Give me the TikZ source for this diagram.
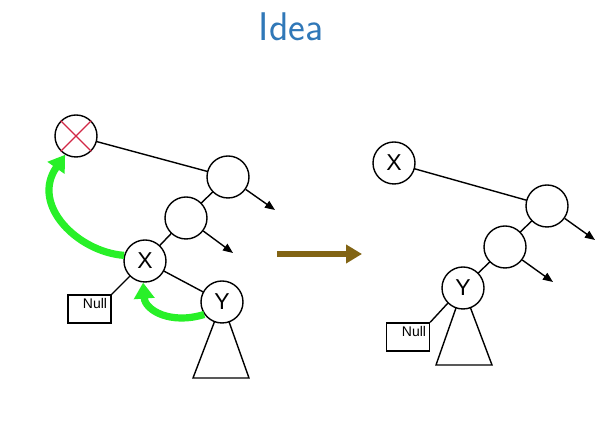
\documentclass[tikz,border=0pt]{standalone}
\usepackage{fontspec}
\newfontfamily\arialfont{Liberation Sans}
\usetikzlibrary{arrows.meta}
\definecolor{titleblue}{RGB}{48,120,184}
\definecolor{brightgreen}{RGB}{40,240,40}
\definecolor{crossred}{RGB}{210,40,70}
\definecolor{arrowbrown}{RGB}{130,100,20}
\tikzset{
  tnode/.style={circle, draw, fill=white, line width=0.7pt, minimum size=21pt, inner sep=0pt, font=\arialfont\fontsize{11.5}{12}\selectfont},
  nullbox/.style={rectangle, draw, fill=white, line width=0.7pt, minimum width=21.5pt, minimum height=14pt, inner sep=0pt},
  nulltext/.style={font=\arialfont\fontsize{7}{8}\selectfont, inner sep=0pt},
  edge/.style={line width=0.7pt},
  ptr/.style={line width=0.7pt, -{Triangle[length=5pt, width=4pt]}},
  greenarrow/.style={line width=3.6pt, brightgreen, -{Triangle[length=8pt, width=10pt]}},
  tri/.style={draw, fill=white, line width=0.7pt}
}
\begin{document}
\begin{tikzpicture}[x=0.5pt, y=-0.5pt]
\useasboundingbox (0,0) rectangle (600,431);
% title
\node[anchor=base, text=titleblue, font=\sffamily\fontsize{20}{24}\selectfont, inner sep=0pt] (title) at (291,41) {Idea};

% ---------- left tree ----------
\coordinate (lY) at (222,302);
\coordinate (lta) at (275,210);
\coordinate (ltb) at (233,253);
\draw[tri] (lY) -- (193,378) -- (249,378) -- cycle;
\draw[edge] (76,136) -- (228,177);
\draw[edge] (228,177) -- (186,218) -- (145,261) -- (222,302);
\node[tnode] (lC) at (76,136) {};
\node[tnode] (lA) at (228,177) {};
\node[tnode] (lB) at (186,218) {};
\node[tnode] (lX) at (145,261) {X};
\node[tnode] (lYn) at (lY) {Y};
\draw[crossred, line width=0.7pt] (lC.45) -- (lC.225) (lC.135) -- (lC.315);
\node[nullbox] (lN) at (89.5,309) {};
\node[nulltext] (lNt) at (95,304) {Null};
\draw[edge] (lX.225) -- (lN.north east);
\draw[ptr] (lA.-35) -- (lta);
\draw[ptr] (lB.-37) -- (ltb);
% green arrows
\draw[greenarrow] (lX.165) .. controls (78,252) and (30,205) .. (lC.240);
\draw[greenarrow] (lYn.215) .. controls (170,325) and (145,310) .. (lX.265);

% ---------- transform arrow ----------
\coordinate (bs) at (277,254);
\coordinate (be) at (362,254);
\draw[arrowbrown, line width=3pt, -{Triangle[length=8pt, width=9pt]}] (bs) -- (be);

% ---------- right tree ----------
\coordinate (rY) at (463,288);
\coordinate (rta) at (595,240);
\coordinate (rtb) at (553,282);
\draw[tri] (rY) -- (436,365) -- (492,365) -- cycle;
\draw[edge] (394,163) -- (547,206) -- (505,247) -- (rY);
\node[tnode] (rX) at (394,163) {X};
\node[tnode] (rA) at (547,206) {};
\node[tnode] (rB) at (505,247) {};
\node[tnode] (rYn) at (rY) {Y};
\node[nullbox] (rN) at (408,337) {};
\node[nulltext] (rNt) at (414,332) {Null};
\draw[edge] (rYn.225) -- (rN.north east);
\draw[ptr] (rA.-35) -- (rta);
\draw[ptr] (rB.-37) -- (rtb);
\end{tikzpicture}
\end{document}
